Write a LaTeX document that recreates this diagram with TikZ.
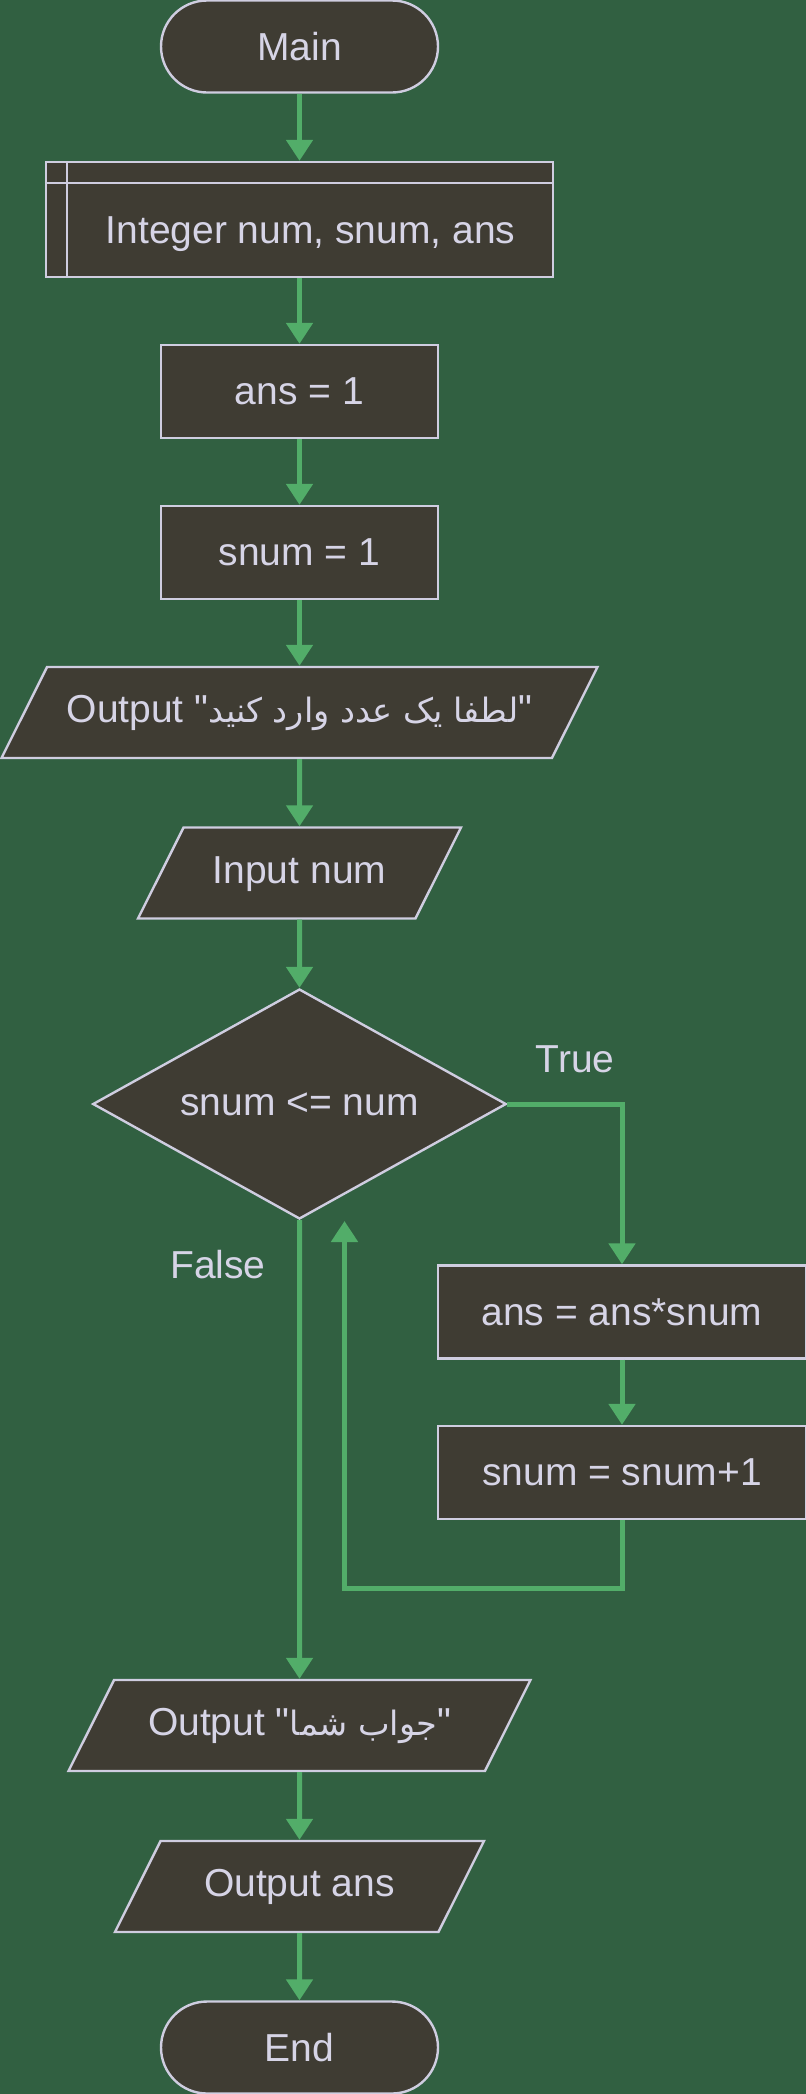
\documentclass[tikz,border=0pt]{standalone}
\usepackage{fontspec}
\setmainfont{Liberation Sans}[Ligatures=TeXOff]
\newfontfamily\arabicfont[Script=Arabic,Scale=0.86]{DejaVu Sans}
\TeXXeTstate=1
\usepackage{tikz}
\usetikzlibrary{positioning,arrows.meta,shapes.geometric,calc}
\definecolor{fond}{HTML}{316041}
\definecolor{boite}{HTML}{3F3C33}
\definecolor{bord}{HTML}{CFCDE0}
\definecolor{texte}{HTML}{D6D4E6}
\definecolor{fleche}{HTML}{52AD69}
\tikzset{
  bloc/.style={draw=bord, fill=boite, line width=1.2pt, text=texte, inner sep=0pt},
  terminal/.style={bloc, rectangle, rounded corners=23pt, minimum width=138.5pt, minimum height=46pt},
  process/.style={bloc, rectangle, minimum width=138.5pt, minimum height=46.5pt},
  io/.style={bloc, trapezium, trapezium left angle=63.4, trapezium right angle=116.6, trapezium stretches body,
    text height=14pt, text depth=4pt, inner ysep=13.75pt, minimum height=45.5pt},
  decision/.style={bloc, diamond, aspect=1.8, minimum width=206.75pt, minimum height=115pt},
  lien/.style={draw=fleche, line width=2.5pt, -{Triangle[width=13pt,length=10.5pt]}},
  etiquette/.style={text=texte, inner sep=0pt}
}

\begin{document}
\begin{tikzpicture}[x=0.5pt, y=-0.5pt, font=\fontsize{19.5}{23.4}\selectfont]
% Fond
\fill[fond] (0,0) rectangle (806,2094);
\useasboundingbox (0,0) rectangle (806,2094);
% Blocs
\node[terminal] (main) at (299.5,46.5) {Main};
\node[process, minimum width=253.5pt, minimum height=57.5pt] (decl) at (299.5,219.5) {};
\draw[bord, line width=1.2pt] ($(decl.north west)+(0,22)$) -- ($(decl.north east)+(0,22)$);
\draw[bord, line width=1.2pt] ($(decl.north west)+(22,0)$) -- ($(decl.south west)+(22,0)$);
\node[etiquette] (decltxt) at (310.5,234) {Integer num, snum, ans};
\node[process] (ans1) at (299.5,391.5) {ans = 1};
\node[process] (snum1) at (299.5,552.5) {snum = 1};
\node[io, minimum width=298pt] (out1) at (299.5,712.5) {Output "{\arabicfont\beginR لطفا یک عدد وارد کنید\endR}"};
\node[io, minimum width=161.5pt] (innum) at (299.5,873) {Input num};
\node[decision] (cond) at (299.5,1104) {snum <= num};
\node[process, minimum width=184pt] (corps1) at (622,1312) {ans = ans*snum};
\node[process, minimum width=184pt] (corps2) at (622,1472.5) {snum = snum+1};
\node[io, minimum width=231pt] (out2) at (299.5,1725.5) {Output "{\arabicfont\beginR جواب شما\endR}"};
\node[io, minimum width=184.5pt] (outans) at (299.5,1886.5) {Output ans};
\node[terminal] (fin) at (299.5,2047.5) {End};
% Etiquettes
\node[etiquette] (vrai) at (575,1059) {True};
\node[etiquette] (faux) at (218,1265) {False};
% Liens
\draw[lien] (main) -- (decl);
\draw[lien] (decl) -- (ans1);
\draw[lien] (ans1) -- (snum1);
\draw[lien] (snum1) -- (out1);
\draw[lien] (out1) -- (innum);
\draw[lien] (innum) -- (cond);
\draw[lien] (cond.east) -| (corps1.north);
\draw[lien] (corps1) -- (corps2);
\coordinate (retour) at (344.5,1221);
\draw[lien] (corps2.south) -- ++(0,68) -| (retour);
\draw[lien] (cond.south) -- (out2);
\draw[lien] (out2) -- (outans);
\draw[lien] (outans) -- (fin);
\end{tikzpicture}
\end{document}
